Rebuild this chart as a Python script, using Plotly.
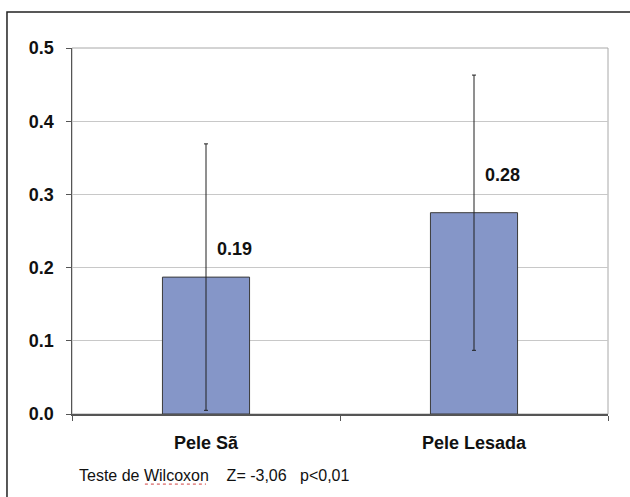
import plotly.graph_objects as go

categories = ["Pele Sã", "Pele Lesada"]
means = [0.187, 0.275]
errors = [0.182, 0.188]
value_labels = ["0.19", "0.28"]
label_y = [0.225, 0.3265]
y_ticks = [0.0, 0.1, 0.2, 0.3, 0.4, 0.5]
footnote = "Teste de Wilcoxon\u00a0\u00a0\u00a0\u00a0Z= -3,06\u00a0\u00a0\u00a0p<0,01"

FONT = "Liberation Sans, Arial, sans-serif"

fig = go.Figure()
fig.add_trace(go.Bar(
    x=categories, y=means, width=0.325,
    marker=dict(color="#8596C8", line=dict(color="#3a3a3a", width=1)),
    error_y=dict(type="data", array=errors, visible=True,
                 color="#202020", thickness=1, width=2),
    hoverinfo="skip",
))

for c, t, yy in zip(categories, value_labels, label_y):
    fig.add_annotation(x=c, y=yy, text=t, showarrow=False, xanchor="left",
                       yanchor="middle", xshift=9,
                       font=dict(family=FONT, size=18, color="#111", weight="bold"))

fig.add_annotation(xref="paper", yref="paper", x=0.0093, y=-0.167,
                   text=footnote, showarrow=False, xanchor="left", yanchor="middle",
                   font=dict(family=FONT, size=16, color="#111"))

# plot-area frame (light gray top/right)
fig.add_shape(type="rect", xref="paper", yref="paper", x0=0, y0=0, x1=1, y1=1,
              line=dict(color="#a8a8a8", width=1), layer="below")
# outer border of the figure box
fig.add_shape(type="rect", xref="paper", yref="paper", x0=-0.1213, y0=-0.25,
              x1=1.06, y1=1.0984, line=dict(color="#222", width=1.5))
# spell-check underline under "Wilcoxon"
fig.add_shape(type="line", xref="paper", yref="paper", x0=0.136, x1=0.25,
              y0=-0.1915, y1=-0.1915, line=dict(color="#d04040", width=1, dash="dot"))

fig.update_layout(
    width=630, height=497,
    margin=dict(l=72, r=22, t=48, b=83, autoexpand=False),
    paper_bgcolor="white", plot_bgcolor="white",
    showlegend=False, bargap=0,
    font=dict(family=FONT, color="#111"),
)
fig.update_yaxes(
    range=[0, 0.5], tickvals=y_ticks, tickformat=".1f",
    showgrid=True, gridcolor="#c8c8c8", gridwidth=1,
    showline=True, linecolor="#555", linewidth=1.5,
    ticks="outside", ticklen=5, tickcolor="#555",
    ticklabelstandoff=8, automargin=False,
    tickfont=dict(family=FONT, size=18, color="#111", weight="bold"),
    zeroline=False,
)
fig.update_xaxes(
    showline=True, linecolor="#555", linewidth=1.5,
    ticks="outside", ticklen=5, tickcolor="#555", tickson="boundaries",
    ticklabelstandoff=12, automargin=False,
    tickfont=dict(family=FONT, size=18, color="#111", weight="bold"),
    showgrid=False,
)

fig.write_html(
    "out.html",
    config={"displayModeBar": False, "staticPlot": True},
    post_script="document.body.style.margin='0';document.body.style.overflow='hidden';",
)
